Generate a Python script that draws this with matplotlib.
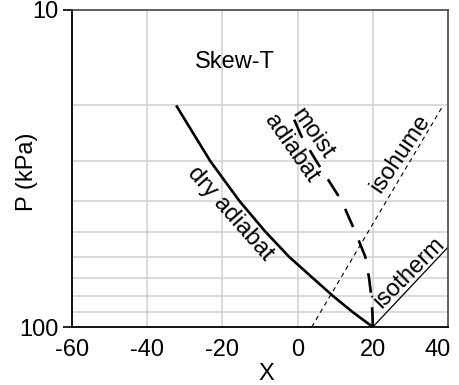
import matplotlib
matplotlib.use("Agg")
import matplotlib.pyplot as plt
import matplotlib.transforms as mtransforms
from matplotlib.ticker import FixedLocator, NullFormatter

plt.rcParams["font.family"] = ["Liberation Sans", "DejaVu Sans"]

# Values (X = skewed temperature axis, P in kPa)
dry_p = [100, 90, 80, 70, 60, 50, 40, 30, 20]
dry_x = [20, 14.8, 9.5, 4.0, -2.3, -8.6, -15.5, -23.2, -32.3]

moist_p = [100, 90, 80, 70, 60, 50, 40, 30, 25, 20.7]
moist_x = [20, 19.9, 19.6, 19.0, 18.0, 15.3, 11.7, 5.0, 1.0, -2.0]

isohume_p = [100, 20]
isohume_x = [3.75, 38.7]

isotherm_p = [100, 56]
isotherm_x = [20, 40]

grid_p = [20, 30, 40, 50, 60, 70, 80, 90]
grid_x = [-40, -20, 0, 20]

x_ticks = [-60, -40, -20, 0, 20, 40]
x_ticklabels = ["-60", "-40", "-20", "0", "20", "40"]


def main():
    fig = plt.figure(figsize=(4.59, 3.85), dpi=100)
    ax = fig.add_axes([72 / 459, 1 - 327 / 385, 376 / 459, 317 / 385])

    ax.set_yscale("log")
    ax.set_ylim(100, 10)
    ax.set_xlim(-60, 40)

    # light grid
    for p in grid_p:
        ax.axhline(p, color="#cfcfcf", lw=1.1, zorder=0)
    for x in grid_x:
        ax.axvline(x, color="#cfcfcf", lw=1.1, zorder=0)

    ax.plot(dry_x, dry_p, color="black", lw=1.9, solid_capstyle="butt")
    ax.plot(moist_x, moist_p, color="black", lw=1.9, dashes=(7.5, 5.5))
    ax.plot(isohume_x, isohume_p, color="black", lw=0.8, dashes=(4, 3.5))
    ax.plot(isotherm_x, isotherm_p, color="black", lw=0.9)

    fs = 17
    ax.text(-16.6, 14.6, "Skew-T", fontsize=fs, ha="center", va="center")
    ax.text(-18.0, 44.0, "dry adiabat", fontsize=fs, rotation=-48.5,
            ha="center", va="center", rotation_mode="anchor")
    ax.text(1.2, 25.9, "moist\nadiabat", fontsize=fs, rotation=-55,
            ha="center", va="center", rotation_mode="anchor",
            linespacing=1.2)
    ax.text(27.2, 28.3, "isohume", fontsize=fs, rotation=56,
            ha="center", va="center", rotation_mode="anchor")
    ax.text(29.6, 67.5, "isotherm", fontsize=fs, rotation=45,
            ha="center", va="center", rotation_mode="anchor")

    ax.yaxis.set_major_locator(FixedLocator([10, 100]))
    ax.yaxis.set_minor_locator(FixedLocator([]))
    ax.yaxis.set_minor_formatter(NullFormatter())
    ax.set_yticklabels(["10", "100"])
    ax.set_xticks(x_ticks)
    ax.set_xticklabels(x_ticklabels)
    ax.tick_params(axis="y", length=6.5, width=1.2, pad=3, labelsize=fs)
    ax.tick_params(axis="x", length=0, pad=9, labelsize=fs)

    # keep the last x label inside the figure, as in the original
    last = ax.get_xticklabels()[-1]
    last.set_horizontalalignment("right")
    last.set_transform(last.get_transform() + mtransforms.ScaledTranslation(
        0.03, 0, fig.dpi_scale_trans))

    for side in ["left", "bottom"]:
        ax.spines[side].set_color("black")
        ax.spines[side].set_linewidth(1.3)
    for side in ["top", "right"]:
        ax.spines[side].set_color("#444444")
        ax.spines[side].set_linewidth(1.2)

    ax.set_xlabel("X", fontsize=fs)
    ax.set_ylabel("P (kPa)", fontsize=fs)
    ax.xaxis.set_label_coords(0.516, -0.115)
    ax.yaxis.set_label_coords(-0.09, 0.49)

    fig.savefig("out.png", dpi=100)
    plt.close(fig)


if __name__ == "__main__":
    main()
